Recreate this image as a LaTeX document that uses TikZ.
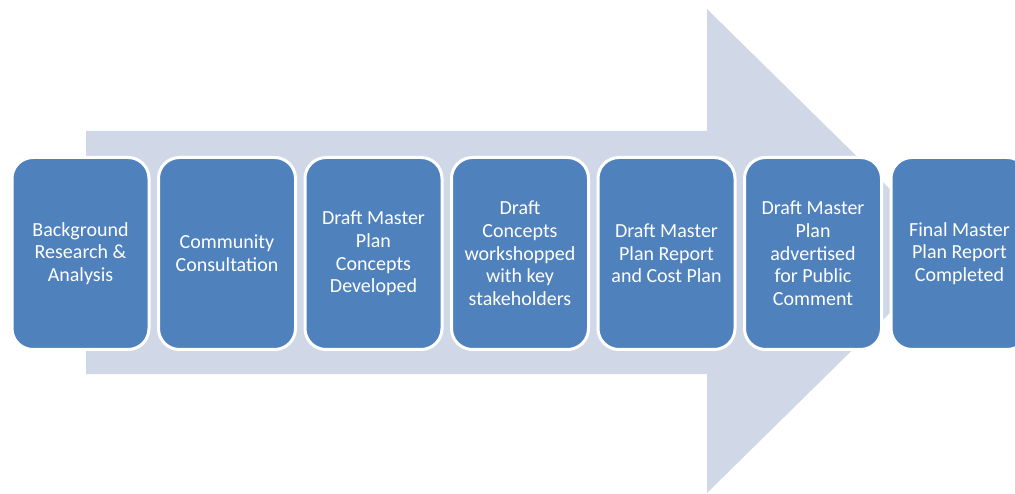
\documentclass[tikz,border=0pt]{standalone}
\usepackage{fontspec}
\setmainfont{Carlito}
\definecolor{arrowc}{HTML}{D0D8E8}
\definecolor{boxc}{HTML}{4F81BD}
\begin{document}
\begin{tikzpicture}[x=1pt,y=-1pt,
  stepbox/.style={draw=white,line width=3pt,fill=boxc,rounded corners=21pt,
    minimum width=137pt,minimum height=192pt,inner sep=0pt,anchor=north west,
    text=white,align=center,font=\fontsize{20}{22.7}\selectfont}]
\useasboundingbox (0,0) rectangle (1015,494);
\fill[arrowc] (86,131) -- (707,131) -- (707,9) -- (953,251) -- (707,493) -- (707,374) -- (86,374) -- cycle;
\node[stepbox] (b1) at (10.5,156) {Background\\Research \&\\Analysis};
\node[stepbox] (b2) at (157,156) {Community\\Consultation};
\node[stepbox] (b3) at (303.5,156) {Draft Master\\Plan\\Concepts\\Developed};
\node[stepbox] (b4) at (450,156) {Draft\\Concepts\\workshopped\\with key\\stakeholders};
\node[stepbox] (b5) at (596.5,156) {Draft Master\\Plan Report\\and Cost Plan};
\node[stepbox] (b6) at (743,156) {Draft Master\\Plan\\advertised\\for Public\\Comment};
\node[stepbox] (b7) at (889.5,156) {Final Master\\Plan Report\\Completed};
\end{tikzpicture}
\end{document}
